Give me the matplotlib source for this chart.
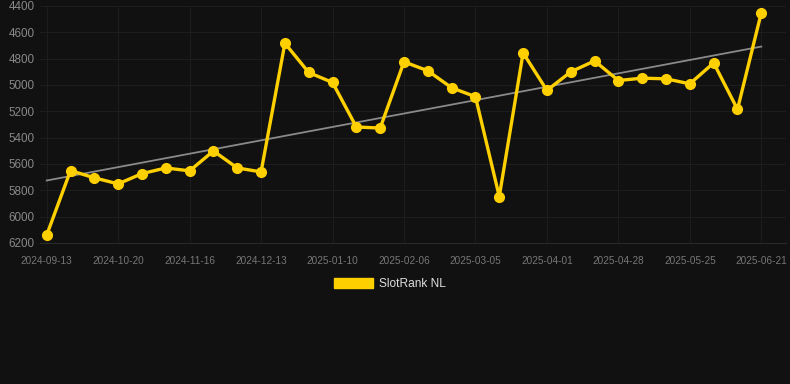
import numpy as np
import matplotlib
matplotlib.use("Agg")
import matplotlib.pyplot as plt
from matplotlib.patches import Patch

# ---- data ----
tick_labels = ["2024-09-13", "2024-10-20", "2024-11-16", "2024-12-13",
               "2025-01-10", "2025-02-06", "2025-03-05", "2025-04-01",
               "2025-04-28", "2025-05-25", "2025-06-21"]
rank_values = [6140, 5650, 5705, 5751, 5673, 5630, 5652, 5501, 5630, 5660,
               4683, 4905, 4981, 5319, 5327, 4824, 4892, 5021, 5089, 5847,
               4756, 5041, 4900, 4817, 4966, 4948, 4953, 4991, 4832, 5185,
               4451]
y_ticks = [4400, 4600, 4800, 5000, 5200, 5400, 5600, 5800, 6000, 6200]
series_name = "SlotRank NL"

BG = "#111111"
GOLD = "#FFD000"

plt.rcParams["font.family"] = ["Liberation Sans", "DejaVu Sans"]

fig = plt.figure(figsize=(7.9, 3.84), dpi=100, facecolor=BG)
W, H = 790, 384
left, right, top, bottom = 40, 786, 6, 243
ax = fig.add_axes([left / W, 1 - bottom / H, (right - left) / W, (bottom - top) / H])
ax.set_facecolor(BG)

x = np.arange(len(rank_values))
y = np.array(rank_values, dtype=float)

# trend line (linear regression)
k, b = np.polyfit(x, y, 1)
ax.plot([x[0], x[-1]], [k * x[0] + b, k * x[-1] + b], color="#8a8a8a", lw=1.3, zorder=2)

ax.plot(x, y, color=GOLD, lw=2.4, marker="o", markersize=7, zorder=3,
        solid_joinstyle="round")

# scales: index 0 at px 46.7, index 30 at px 761.3
ppi = (761.3 - 46.7) / 30
ax.set_xlim(-(46.7 - left) / ppi, 30 + (right - 761.3) / ppi)
ax.set_ylim(6200, 4400)

tick_idx = list(range(0, len(rank_values), 3))
ax.set_xticks(tick_idx)
ax.set_xticklabels(tick_labels)
ax.set_yticks(y_ticks)
ax.set_yticklabels([str(v) for v in y_ticks])

ax.tick_params(axis="x", colors="#777777", labelsize=7.2, length=0, pad=9)
ax.tick_params(axis="y", colors="#888888", labelsize=8.4, length=0, pad=4)
for lbl in ax.get_xticklabels():
    lbl.set_color("#777777")
for lbl in ax.get_yticklabels():
    lbl.set_color("#888888")

ax.grid(True, color="#1d1d1d", lw=0.8)
ax.set_axisbelow(True)
for s in ["top", "right", "left"]:
    ax.spines[s].set_visible(False)
ax.spines["bottom"].set_color("#2a2a2a")
ax.spines["bottom"].set_linewidth(0.8)

handle = Patch(facecolor=GOLD, edgecolor=GOLD)
leg = fig.legend([handle], [series_name], loc="center", bbox_to_anchor=(390 / W, 1 - 284 / H),
                 frameon=False, handlelength=3.3, handleheight=0.85, handletextpad=0.5,
                 prop={"size": 8.6})
for t in leg.get_texts():
    t.set_color("#dddddd")

fig.savefig("out.png", dpi=100, facecolor=BG)
